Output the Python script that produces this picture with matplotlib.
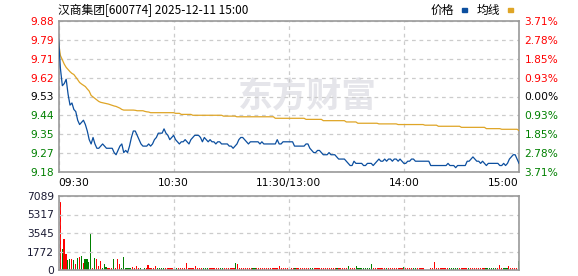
import numpy as np
import matplotlib
matplotlib.use('Agg')
import matplotlib.pyplot as plt
from matplotlib.patches import Rectangle

plt.rcParams['font.family'] = ['DejaVu Sans', 'Noto Sans CJK SC']

# minute prices, 09:30 .. 11:30 / 13:01 .. 15:00
price = [
    9.80, 9.66, 9.58, 9.59, 9.61, 9.54, 9.49, 9.50, 9.47, 9.46,
    9.42, 9.40, 9.41, 9.42, 9.40, 9.37, 9.33, 9.31, 9.34, 9.31,
    9.29, 9.29, 9.30, 9.31, 9.30, 9.29, 9.29, 9.29, 9.29, 9.27,
    9.26, 9.28, 9.30, 9.31, 9.27, 9.28, 9.27, 9.30, 9.34, 9.37,
    9.37, 9.35, 9.33, 9.31, 9.30, 9.30, 9.30, 9.31, 9.30, 9.31,
    9.33, 9.34, 9.36, 9.36, 9.36, 9.38, 9.36, 9.35, 9.33, 9.34,
    9.35, 9.33, 9.32, 9.31, 9.32, 9.32, 9.33, 9.32, 9.31, 9.33,
    9.34, 9.35, 9.35, 9.35, 9.34, 9.32, 9.34, 9.33, 9.32, 9.33,
    9.32, 9.32, 9.31, 9.32, 9.32, 9.31, 9.31, 9.31, 9.31, 9.30,
    9.30, 9.29, 9.30, 9.31, 9.33, 9.34, 9.34, 9.33, 9.32, 9.31,
    9.32, 9.32, 9.32, 9.32, 9.32, 9.31, 9.32, 9.31, 9.31, 9.31,
    9.31, 9.31, 9.31, 9.31, 9.33, 9.31, 9.31, 9.32, 9.32, 9.32,
    9.32, 9.32, 9.32, 9.30, 9.30, 9.30, 9.30, 9.30, 9.30, 9.31,
    9.31, 9.29, 9.28, 9.27, 9.27, 9.28, 9.28, 9.27, 9.26, 9.26,
    9.26, 9.27, 9.26, 9.26, 9.26, 9.25, 9.24, 9.24, 9.24, 9.24,
    9.23, 9.22, 9.21, 9.21, 9.23, 9.22, 9.22, 9.22, 9.22, 9.21,
    9.21, 9.22, 9.22, 9.22, 9.21, 9.22, 9.23, 9.24, 9.23, 9.23,
    9.24, 9.23, 9.24, 9.24, 9.23, 9.24, 9.24, 9.23, 9.24, 9.23,
    9.22, 9.22, 9.23, 9.23, 9.24, 9.24, 9.23, 9.23, 9.23, 9.23,
    9.23, 9.23, 9.23, 9.23, 9.21, 9.21, 9.21, 9.21, 9.21, 9.21,
    9.21, 9.21, 9.21, 9.22, 9.21, 9.21, 9.21, 9.20, 9.21, 9.21,
    9.21, 9.21, 9.21, 9.23, 9.23, 9.24, 9.25, 9.24, 9.23, 9.23,
    9.22, 9.23, 9.22, 9.21, 9.22, 9.22, 9.22, 9.22, 9.22, 9.22,
    9.21, 9.21, 9.22, 9.21, 9.22, 9.24, 9.25, 9.26, 9.26, 9.24,
    9.22,
]

avg = [
    9.780, 9.720, 9.700, 9.680, 9.665, 9.655, 9.645, 9.637, 9.632, 9.620,
    9.608, 9.595, 9.588, 9.582, 9.576, 9.565, 9.555, 9.535, 9.528, 9.521,
    9.514, 9.507, 9.503, 9.501, 9.499, 9.497, 9.495, 9.492, 9.489, 9.486,
    9.484, 9.480, 9.476, 9.470, 9.467, 9.467, 9.467, 9.467, 9.467, 9.467,
    9.466, 9.464, 9.464, 9.464, 9.464, 9.461, 9.459, 9.458, 9.455, 9.455,
    9.455, 9.455, 9.455, 9.455, 9.455, 9.455, 9.455, 9.455, 9.455, 9.455,
    9.455, 9.452, 9.452, 9.452, 9.447, 9.447, 9.447, 9.447, 9.447, 9.447,
    9.443, 9.443, 9.443, 9.443, 9.443, 9.443, 9.443, 9.443, 9.443, 9.443,
    9.443, 9.443, 9.443, 9.443, 9.443, 9.443, 9.439, 9.439, 9.439, 9.439,
    9.439, 9.439, 9.439, 9.436, 9.436, 9.436, 9.436, 9.436, 9.436, 9.436,
    9.436, 9.436, 9.436, 9.436, 9.436, 9.436, 9.436, 9.436, 9.436, 9.436,
    9.436, 9.436, 9.436, 9.429, 9.429, 9.429, 9.429, 9.429, 9.429, 9.429,
    9.429, 9.429, 9.429, 9.429, 9.429, 9.429, 9.429, 9.429, 9.429, 9.424,
    9.424, 9.424, 9.424, 9.424, 9.424, 9.424, 9.424, 9.424, 9.418, 9.418,
    9.418, 9.418, 9.418, 9.418, 9.418, 9.418, 9.418, 9.418, 9.418, 9.418,
    9.412, 9.412, 9.412, 9.412, 9.412, 9.412, 9.406, 9.406, 9.406, 9.406,
    9.406, 9.406, 9.406, 9.406, 9.406, 9.406, 9.406, 9.403, 9.403, 9.403,
    9.403, 9.403, 9.403, 9.403, 9.403, 9.403, 9.403, 9.400, 9.400, 9.400,
    9.400, 9.400, 9.400, 9.400, 9.400, 9.400, 9.400, 9.400, 9.400, 9.400,
    9.400, 9.397, 9.397, 9.397, 9.397, 9.397, 9.397, 9.397, 9.392, 9.392,
    9.392, 9.392, 9.392, 9.392, 9.392, 9.392, 9.392, 9.392, 9.392, 9.392,
    9.387, 9.387, 9.387, 9.387, 9.387, 9.387, 9.387, 9.387, 9.387, 9.387,
    9.387, 9.387, 9.387, 9.381, 9.381, 9.381, 9.381, 9.381, 9.381, 9.381,
    9.381, 9.378, 9.378, 9.378, 9.378, 9.378, 9.378, 9.378, 9.378, 9.378,
    9.372,
]

volume = [
    6540, 1980, 2940, 1530, 960, 1050, 1050, 960, 580, 1150,
    1250, 1340, 700, 1050, 1050, 770, 3580, 150, 1150, 1050,
    380, 890, 150, 580, 320, 150, 150, 150, 1050, 150,
    1050, 580, 150, 1250, 180, 180, 180, 180, 255, 180,
    383, 180, 180, 0, 180, 180, 480, 180, 180, 180,
    383, 180, 180, 180, 180, 180, 180, 180, 180, 180,
    180, 180, 180, 180, 180, 180, 700, 180, 180, 180,
    200, 383, 180, 180, 180, 180, 180, 180, 180, 180,
    180, 180, 180, 180, 180, 180, 180, 180, 180, 180,
    180, 180, 700, 540, 180, 180, 180, 180, 180, 180,
    180, 180, 180, 180, 180, 180, 180, 180, 180, 180,
    180, 180, 180, 180, 180, 383, 180, 180, 180, 180,
    180, 180, 180, 220, 180, 180, 180, 180, 180, 180,
    180, 180, 180, 220, 180, 180, 180, 180, 180, 180,
    180, 180, 180, 180, 180, 180, 180, 180, 180, 180,
    180, 383, 180, 180, 180, 383, 180, 180, 180, 180,
    180, 180, 180, 575, 180, 180, 180, 180, 180, 180,
    180, 180, 180, 180, 180, 180, 180, 180, 180, 180,
    290, 180, 180, 180, 180, 180, 180, 180, 180, 180,
    180, 0, 0, 0, 180, 180, 800, 180, 180, 220,
    180, 180, 180, 180, 180, 180, 180, 180, 180, 180,
    200, 180, 180, 180, 180, 180, 180, 180, 180, 180,
    180, 180, 180, 180, 180, 180, 180, 180, 180, 180,
    480, 180, 180, 180, 180, 383, 220, 180, 180, 180,
    860,
]

# minutes whose volume bar is green (down)
green_idx = [1, 4, 5, 7, 9, 11, 13, 14, 15, 16, 18, 22, 23, 24, 28, 32, 33,
             34, 35, 36, 37, 42, 44, 51, 52, 53, 54, 60, 61, 75, 76, 77, 84,
             85, 92, 101, 102, 123, 131, 132, 145, 151, 155, 156, 157, 158,
             159, 160, 161, 162, 163, 171, 180, 185, 186, 204, 205, 206, 207,
             208, 214, 223, 224, 225, 226, 227, 228, 232, 233, 234, 240]

price_labels = ['9.18', '9.27', '9.35', '9.44', '9.53', '9.62', '9.71', '9.79', '9.88']
pct_labels = ['3.71%', '2.78%', '1.85%', '0.93%', '0.00%', '0.93%', '1.85%', '2.78%', '3.71%']
vol_labels = ['0', '1772', '3545', '5317', '7089']
time_labels = ['09:30', '10:30', '11:30/13:00', '14:00', '15:00']

RED = '#ff0000'
GREEN = '#008000'
GRID = '#cccccc'
SPINE = '#999999'
BLUE = '#0c4f9f'
GOLD = '#dfa526'

W, H = 578, 276
fig = plt.figure(figsize=(W / 100, H / 100), dpi=100)
left, right = 58.5, 519
ax = fig.add_axes([left / W, 1 - 172 / H, (right - left) / W, (172 - 21) / H])
axv = fig.add_axes([left / W, 1 - 270 / H, (right - left) / W, (270 - 196) / H])

x = np.arange(len(price))

# watermark
ax.text(0.54, 0.50, '东方财富', transform=ax.transAxes, ha='center', va='center',
        fontsize=25, fontweight='bold', color='#e5e5ea',
        family=['Noto Sans CJK SC', 'DejaVu Sans'], zorder=0)

ax.plot(x, avg, color=GOLD, lw=0.9, zorder=3)
ax.plot(x, price, color=BLUE, lw=0.9, zorder=4)

ymin, ymax = 9.18, 9.88
ax.set_xlim(0, len(price) - 1)
ax.set_ylim(ymin, ymax)
yt = np.linspace(ymin, ymax, 9)
ax.set_yticks(yt)
ax.set_yticklabels(price_labels)
xt = np.linspace(0, len(price) - 1, 5)
ax.set_xticks(xt)
ax.set_xticklabels(time_labels)
ax.tick_params(axis='both', length=0, labelsize=7.7)
ax.tick_params(axis='y', pad=3)
ax.tick_params(axis='x', pad=4)
xl = ax.get_xticklabels()
xl[0].set_ha('left')
xl[-1].set_ha('right')
for i, t in enumerate(ax.get_yticklabels()):
    t.set_color(GREEN if i < 4 else ('black' if i == 4 else RED))
ax.grid(True, color=GRID, ls=(0, (3, 3)), lw=0.9)
for s in ax.spines.values():
    s.set_color(SPINE)
    s.set_linewidth(1.2)

axr = ax.twinx()
axr.set_ylim(ymin, ymax)
axr.set_yticks(yt)
axr.set_yticklabels(pct_labels)
axr.tick_params(axis='y', length=0, labelsize=7.7, pad=4)
for i, t in enumerate(axr.get_yticklabels()):
    t.set_color(GREEN if i < 4 else ('black' if i == 4 else RED))
for s in axr.spines.values():
    s.set_visible(False)

# volume
colors = [GREEN if i in green_idx else RED for i in range(len(volume))]
axv.bar(x, volume, width=0.6, color=colors, linewidth=0)
axv.set_xlim(-0.9, len(price) - 0.7)
axv.set_ylim(0, 7089)
axv.set_yticks(np.linspace(0, 7089, 5))
axv.set_yticklabels(vol_labels)
axv.set_xticks(np.linspace(-0.9, len(price) - 0.7, 5))
axv.set_xticklabels([])
axv.tick_params(axis='both', length=0, labelsize=7.7, colors='#1a1a33')
axv.tick_params(axis='y', pad=3)
axv.grid(True, color=GRID, ls=(0, (3, 3)), lw=0.9)
for s in axv.spines.values():
    s.set_color(SPINE)
    s.set_linewidth(1.2)

# header
cjk = ['Noto Sans CJK SC', 'DejaVu Sans']
fig.text(left / W, 1 - 10 / H, '汉商集团[600774] 2025-12-11 15:00', ha='left',
         va='center', fontsize=8.5, family=cjk)
fig.text(431 / W, 1 - 10 / H, '价格', ha='left', va='center', fontsize=8.5, family=cjk)
fig.text(477 / W, 1 - 10 / H, '均线', ha='left', va='center', fontsize=8.5, family=cjk)
fig.patches.append(Rectangle((462 / W, 1 - 11.5 / H), 5 / W, 3 / H,
                             transform=fig.transFigure, color=BLUE))
fig.patches.append(Rectangle((508 / W, 1 - 11.5 / H), 5 / W, 3 / H,
                             transform=fig.transFigure, color=GOLD))

fig.savefig('out.png', dpi=100)
